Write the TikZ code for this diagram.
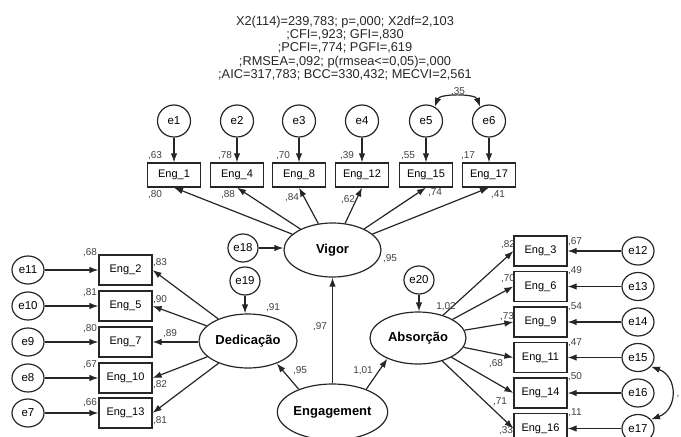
\documentclass[tikz,border=0pt]{standalone}
\usepackage{fontspec}
\setmainfont{Liberation Sans}
\usetikzlibrary{shapes.geometric,arrows.meta}
\begin{document}
\begin{tikzpicture}[x=1pt,y=-1pt,
  box/.style={draw=black!85, line width=1.2pt, minimum width=53pt, minimum height=30pt, inner sep=0pt, font=\fontsize{11}{13}\selectfont},
  tbox/.style={box, minimum height=24pt},
  err/.style={draw=black!85, ellipse, line width=1.2pt, minimum width=32pt, minimum height=28pt, inner sep=0pt, font=\fontsize{11.5}{13}\selectfont},
  terr/.style={err, minimum width=33pt, minimum height=32pt},
  lat/.style={draw=black!85, ellipse, line width=1.2pt, inner sep=0pt, font=\bfseries\fontsize{13}{15}\selectfont},
  arr/.style={draw=black!85, line width=1.2pt, -{Latex[length=9pt,width=6.5pt]}},
  biarr/.style={draw=black!85, line width=1.2pt, {Latex[length=9pt,width=6.5pt]}-{Latex[length=9pt,width=6.5pt]}},
  lab/.style={font=\fontsize{10}{12}\selectfont, text=black!75, inner sep=0pt},
]
\useasboundingbox (0,0) rectangle (681,437);

% title
\node[align=center, font=\fontsize{12.8}{13.2}\selectfont, text=black!85] (title) at (345,48)
 {X2(114)=239,783; p=,000; X2df=2,103\\;CFI=,923; GFI=,830\\;PCFI=,774; PGFI=,619\\;RMSEA=,092; p(rmsea<=0,05)=,000\\;AIC=317,783; BCC=330,432; MECVI=2,561};

% latent variables
\node[lat, minimum width=97pt, minimum height=54pt] (vig) at (332.5,250) {Vigor};
\node[lat, minimum width=98pt, minimum height=54pt] (ded) at (248,341) {Dedicação};
\node[lat, minimum width=96pt, minimum height=52pt] (abs) at (418,338) {Absorção};
\node[lat, minimum width=101pt, minimum height=56pt] (eng) at (332.5,412) {Engagement};

% top row
\node[terr] (e1) at (174,121) {e1};
\node[terr] (e2) at (237,121) {e2};
\node[terr] (e3) at (299,121) {e3};
\node[terr] (e4) at (362,121) {e4};
\node[terr] (e5) at (426,121) {e5};
\node[terr] (e6) at (489,121) {e6};
\node[tbox] (b1) at (174,175) {Eng\_1};
\node[tbox] (b4) at (237,175) {Eng\_4};
\node[tbox] (b8) at (299,175) {Eng\_8};
\node[tbox] (b12) at (362,175) {Eng\_12};
\node[tbox] (b15) at (426,175) {Eng\_15};
\node[tbox] (b17) at (489,175) {Eng\_17};
\draw[arr] (e1) -- (b1);
\draw[arr] (e2) -- (b4);
\draw[arr] (e3) -- (b8);
\draw[arr] (e4) -- (b12);
\draw[arr] (e5) -- (b15);
\draw[arr] (e6) -- (b17);
\draw[biarr] (e5.58) to[out=70,in=110,looseness=0.8] (e6.122);
\draw[arr] (vig) -- (b1.south);
\draw[arr] (vig) -- (b4.south);
\draw[arr] (vig) -- (b8.south);
\draw[arr] (vig) -- (b12.south);
\draw[arr] (vig) -- (b15.south);
\draw[arr] (vig) -- (b17.south);

% vigor disturbance
\node[err, minimum width=30pt] (e18) at (243,248) {e18};
\draw[arr] (e18) -- (vig.west |- e18);

% Dedicacao side
\node[err, minimum width=30pt] (e19) at (245,281) {e19};
\draw[arr] (e19) -- (ded.north -| e19);
\node[box] (b2) at (125.5,270) {Eng\_2};
\node[box] (b5) at (125.5,306) {Eng\_5};
\node[box] (b7) at (125.5,342) {Eng\_7};
\node[box] (b10) at (125.5,378) {Eng\_10};
\node[box] (b13) at (125.5,413) {Eng\_13};
\node[err] (e11) at (28,270) {e11};
\node[err] (e10) at (28,306) {e10};
\node[err] (e9) at (28,342) {e9};
\node[err] (e8) at (28,378) {e8};
\node[err] (e7) at (28,413) {e7};
\draw[arr] (e11) -- (b2);
\draw[arr] (e10) -- (b5);
\draw[arr] (e9) -- (b7);
\draw[arr] (e8) -- (b10);
\draw[arr] (e7) -- (b13);
\draw[arr] (ded) -- (b2.east);
\draw[arr] (ded) -- (b5.east);
\draw[arr] (ded.west |- b7) -- (b7.east);
\draw[arr] (ded) -- (b10.east);
\draw[arr] (ded) -- (b13.east);

% Absorcao side
\node[err, minimum width=30pt] (e20) at (419,280) {e20};
\draw[arr] (e20) -- (abs.north -| e20);
\node[box] (b3) at (540.5,251) {Eng\_3};
\node[box] (b6) at (540.5,286.5) {Eng\_6};
\node[box] (b9) at (540.5,322) {Eng\_9};
\node[box] (b11) at (540.5,357.5) {Eng\_11};
\node[box] (b14) at (540.5,393) {Eng\_14};
\node[box] (b16) at (540.5,428.5) {Eng\_16};
\node[err] (e12) at (638,251) {e12};
\node[err] (e13) at (638,286.5) {e13};
\node[err] (e14) at (638,322) {e14};
\node[err] (e15) at (638,357.5) {e15};
\node[err] (e16) at (638,393) {e16};
\node[err] (e17) at (638,428.5) {e17};
\draw[arr] (e12) -- (b3);
\draw[arr] (e13) -- (b6);
\draw[arr] (e14) -- (b9);
\draw[arr] (e15) -- (b11);
\draw[arr] (e16) -- (b14);
\draw[arr] (e17) -- (b16);
\draw[biarr] (e15.-35) to[out=-20,in=20,looseness=1.4] (e17.35);
\draw[arr] (abs) -- (b3.west);
\draw[arr] (abs) -- (b6.west);
\draw[arr] (abs) -- (b9.west);
\draw[arr] (abs) -- (b11.west);
\draw[arr] (abs) -- (b14.west);
\draw[arr] (abs) -- (b16.west);

% second order paths
\draw[arr] (eng) -- (vig);
\draw[arr] (eng.146) -- (ded.-38);
\draw[arr] (eng.34) -- (abs.-146);

% labels: top
\node[lab] at (155,156) {,63};
\node[lab] at (225,156) {,78};
\node[lab] at (283,156) {,70};
\node[lab] at (347,156) {,39};
\node[lab] at (408,156) {,55};
\node[lab] at (468,156) {,17};
\node[lab] at (155,195) {,80};
\node[lab] at (228,195) {,88};
\node[lab] at (292,198) {,84};
\node[lab] at (348,200) {,62};
\node[lab] at (435,193) {,74};
\node[lab] at (498,195) {,41};
\node[lab] at (458,92) {,35};
% latent labels
\node[lab] at (390,259) {,95};
\node[lab] at (273,308) {,91};
\node[lab] at (320,327) {,97};
\node[lab] at (300,371) {,95};
\node[lab] at (363,371) {1,01};
\node[lab] at (446,307) {1,02};
% left labels
\node[lab] at (90,253) {,68};
\node[lab] at (90,293) {,81};
\node[lab] at (90,329) {,80};
\node[lab] at (90,365) {,67};
\node[lab] at (90,403) {,66};
\node[lab] at (160,263) {,83};
\node[lab] at (160,300) {,90};
\node[lab] at (170,334) {,89};
\node[lab] at (160,385) {,82};
\node[lab] at (160,421) {,81};
% right labels
\node[lab] at (575,242) {,67};
\node[lab] at (575,271) {,49};
\node[lab] at (575,307) {,54};
\node[lab] at (575,343) {,47};
\node[lab] at (575,377) {,50};
\node[lab] at (575,413) {,11};
\node[lab] at (508,245) {,82};
\node[lab] at (508,279) {,70};
\node[lab] at (507,317) {,73};
\node[lab] at (496,364) {,68};
\node[lab] at (500,402) {,71};
\node[lab] at (506,431) {,33};
\node[lab] at (678,397) {,};
\end{tikzpicture}
\end{document}
